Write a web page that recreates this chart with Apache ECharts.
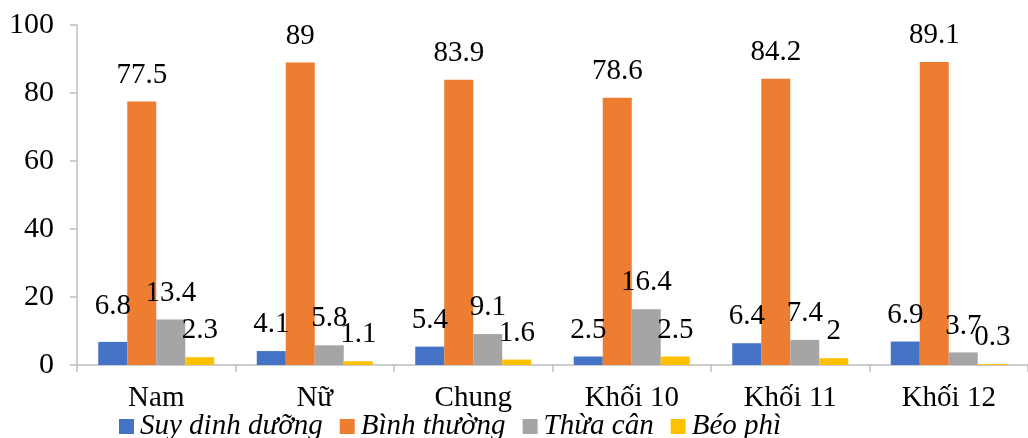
<!DOCTYPE html>
<html><head><meta charset="utf-8">
<script src="https://cdn.jsdelivr.net/npm/echarts@6/dist/echarts.min.js"></script>
<style>html,body{margin:0;padding:0;background:#fff}#c{width:1028px;height:438px}</style>
</head><body><div id="c"></div>
<script>
var categories = ['Nam', 'Nữ', 'Chung', 'Khối 10', 'Khối 11', 'Khối 12'];
var seriesNames = ['Suy dinh dưỡng', 'Bình thường', 'Thừa cân', 'Béo phì'];
var suyDinhDuong = [6.8, 4.1, 5.4, 2.5, 6.4, 6.9];
var binhThuong = [77.5, 89, 83.9, 78.6, 84.2, 89.1];
var thuaCan = [13.4, 5.8, 9.1, 16.4, 7.4, 3.7];
var beoPhi = [2.3, 1.1, 1.6, 2.5, 2, 0.3];
var yTicks = [0, 20, 40, 60, 80, 100];

var colors = ['#4472C4', '#ED7D31', '#A5A5A5', '#FFC000'];
var values = [suyDinhDuong, binhThuong, thuaCan, beoPhi];
var font = '"Liberation Serif", "Times New Roman", serif';

var series = values.map(function (arr, si) {
  return {
    name: seriesNames[si],
    type: 'bar',
    barWidth: 29,
    barGap: '0%',
    itemStyle: { color: colors[si] },
    label: {
      show: true, position: 'top', distance: 12,
      color: '#000', fontFamily: font, fontSize: 29
    },
    data: arr.map(function (v, i) {
      if (si === 0 && i === 0) return { value: v, label: { distance: 21 } };
      return v;
    })
  };
});

var chart = echarts.init(document.getElementById('c'), null, { renderer: 'canvas' });
chart.setOption({
  animation: false,
  textStyle: { fontFamily: font },
  grid: { left: 77, right: -7, top: 25, bottom: 73, containLabel: false },
  legend: {
    left: 114, top: 407,
    itemWidth: 15, itemHeight: 15, itemGap: 17,
    icon: 'rect',
    textStyle: { fontFamily: font, fontSize: 29, fontStyle: 'italic', color: '#000', padding: [0, 0, 0, 1] },
    data: seriesNames
  },
  xAxis: {
    type: 'category',
    data: categories,
    axisLine: { lineStyle: { color: '#BFBFBF', width: 1.5 } },
    axisTick: { show: true, length: 7, lineStyle: { color: '#BFBFBF', width: 1.5 } },
    axisLabel: { color: '#000', fontFamily: font, fontSize: 29, margin: 19 }
  },
  yAxis: {
    type: 'value',
    min: yTicks[0], max: yTicks[yTicks.length - 1], interval: yTicks[1] - yTicks[0],
    splitLine: { show: false },
    axisLine: { show: true, lineStyle: { color: '#BFBFBF', width: 1.5 } },
    axisTick: { show: true, length: 7, lineStyle: { color: '#BFBFBF', width: 1.5 } },
    axisLabel: { color: '#000', fontFamily: font, fontSize: 30, margin: 23 }
  },
  series: series
});
</script></body></html>
